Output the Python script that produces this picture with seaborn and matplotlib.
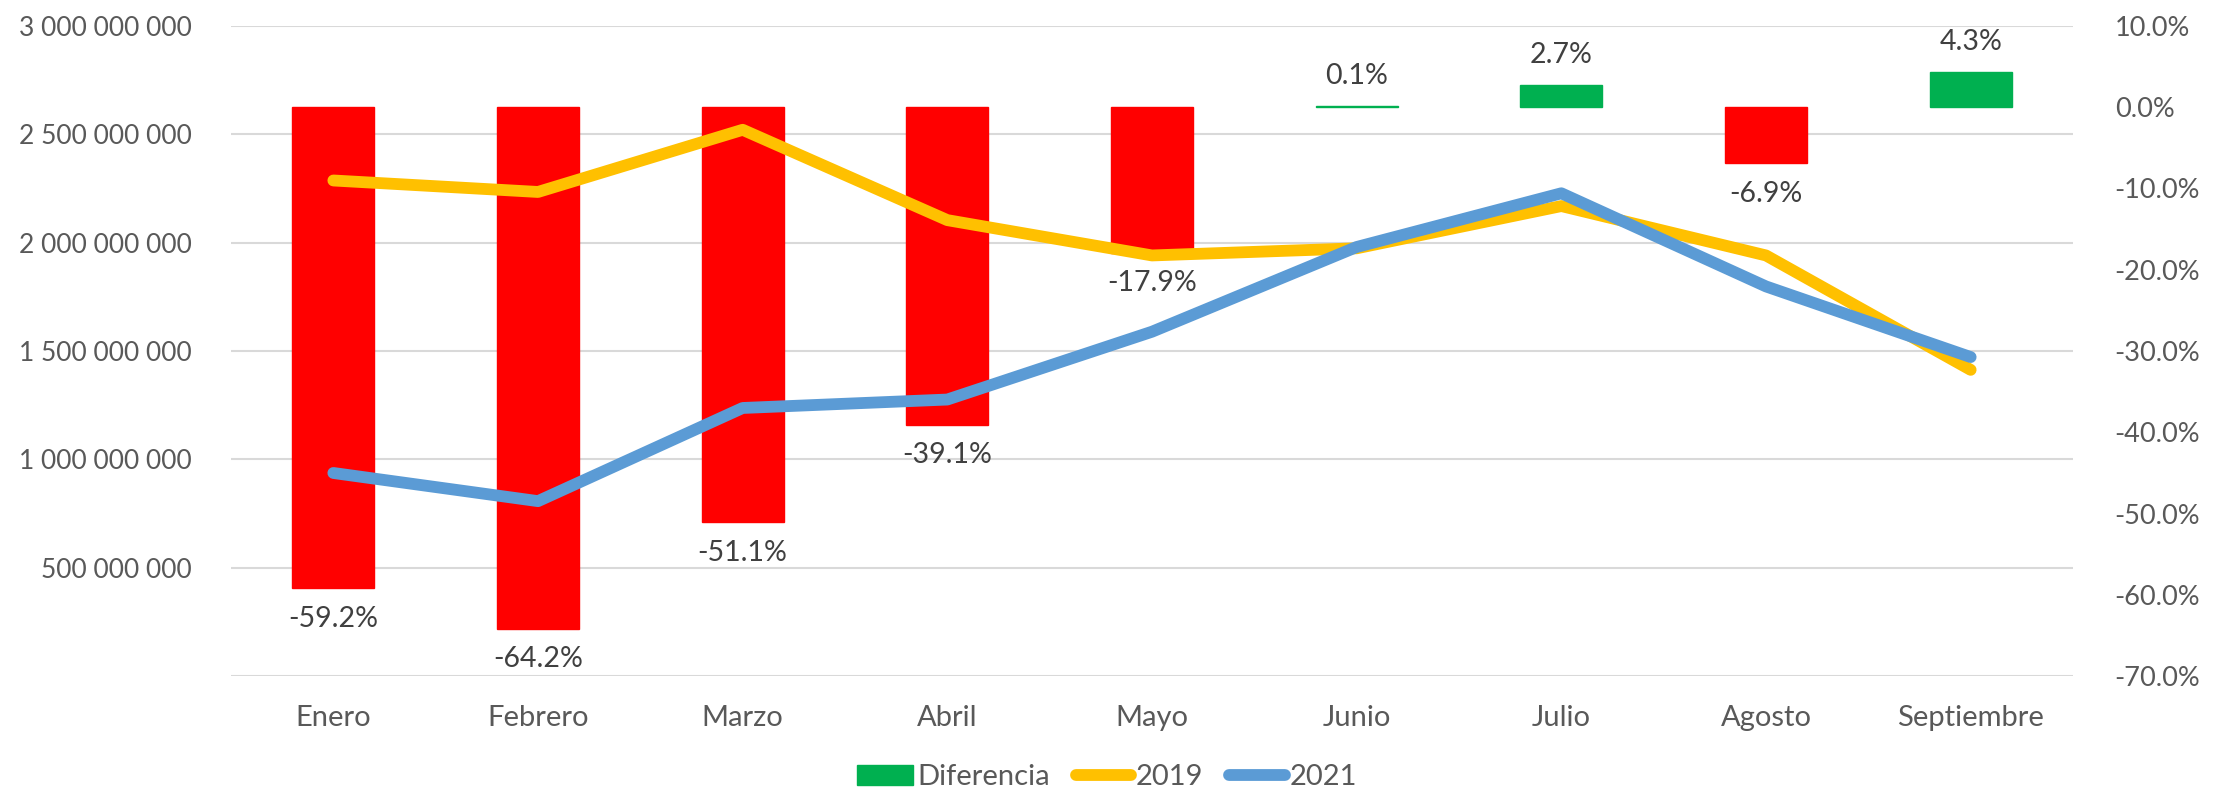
import numpy as np
import pandas as pd
import matplotlib.pyplot as plt
import seaborn as sns
from matplotlib.patches import Patch
from matplotlib.lines import Line2D
from matplotlib.ticker import FuncFormatter

# data
months = ["Enero", "Febrero", "Marzo", "Abril", "Mayo", "Junio", "Julio", "Agosto", "Septiembre"]
v2019 = [2.287e9, 2.234e9, 2.521e9, 2.104e9, 1.941e9, 1.974e9, 2.169e9, 1.941e9, 1.413e9]
v2021 = [0.937e9, 0.807e9, 1.237e9, 1.276e9, 1.589e9, 1.980e9, 2.228e9, 1.798e9, 1.472e9]
diferencia = [-59.2, -64.2, -51.1, -39.1, -17.9, 0.1, 2.7, -6.9, 4.3]

df = pd.DataFrame({"pos": np.arange(len(months)), "mes": months,
                   "v2019": v2019, "v2021": v2021, "dif": diferencia})
df["signo"] = np.where(df["dif"] < 0, "neg", "pos")

RED, GREEN, YELLOW, BLUE = "#FF0000", "#00B050", "#FFC000", "#5B9BD5"
TXT = "#595959"

sns.set_theme(style="white")
plt.rcParams["font.family"] = ["Lato", "DejaVu Sans"]

fig = plt.figure(figsize=(22.14, 7.92), dpi=100)
ax = fig.add_axes([231 / 2214, 1 - 676 / 792, (2073 - 231) / 2214, 650 / 792])

# left axis: gridlines + tick labels
ax.set_ylim(0, 3e9)
ax.set_yticks(np.arange(0, 3.01e9, 5e8))
ax.yaxis.set_major_formatter(FuncFormatter(
    lambda v, p: "" if v == 0 else f"{v:,.0f}".replace(",", " ")))
ax.grid(axis="y", color="#D9D9D9", lw=1.5)
ax.tick_params(axis="y", length=0, pad=28, labelsize=19, labelcolor=TXT)

# bars on percent axis (right)
axb = ax.twinx()
sns.barplot(data=df, x="pos", y="dif", hue="signo", palette={"neg": RED, "pos": GREEN},
            dodge=False, width=0.4, legend=False, ax=axb, saturation=1, linewidth=1)
for p in axb.patches:
    p.set_edgecolor(p.get_facecolor())
axb.set_ylim(-70, 10)
axb.set_yticks(np.arange(-70, 10.1, 10))
axb.yaxis.set_major_formatter(FuncFormatter(lambda v, p: f"{v:.1f}%"))
axb.tick_params(axis="y", length=0, pad=30, labelsize=19.5, labelcolor=TXT)
axb.set_ylabel("")
for i, d in enumerate(diferencia):
    off = -22 if d < 0 else 22
    axb.annotate(f"{d:.1f}%", xy=(i, d), xytext=(0, off), textcoords="offset points",
                 ha="center", va="center", fontsize=20.5, color="#404040")

# lines on left scale
axl = ax.twinx()
sns.lineplot(data=df, x="pos", y="v2019", color=YELLOW, lw=8.5, ax=axl,
             solid_capstyle="round", solid_joinstyle="round")
sns.lineplot(data=df, x="pos", y="v2021", color=BLUE, lw=8.5, ax=axl,
             solid_capstyle="round", solid_joinstyle="round")
axl.set_ylim(0, 3e9)
axl.set_yticks([])
axl.set_ylabel("")

ax.set_xlim(-0.5, len(months) - 0.5)
ax.set_xticks(df["pos"])
ax.set_xticklabels(months)
ax.tick_params(axis="x", length=0, pad=21, labelsize=21, labelcolor=TXT)
ax.set_xlabel("")

for a in (ax, axb, axl):
    for s in a.spines.values():
        s.set_visible(False)

handles = [Patch(color=GREEN),
           Line2D([], [], color=YELLOW, lw=8.5, solid_capstyle="round"),
           Line2D([], [], color=BLUE, lw=8.5, solid_capstyle="round")]
leg = fig.legend(handles, ["Diferencia", "2019", "2021"], loc="center",
                 bbox_to_anchor=(0.5, 1 - 777 / 792), ncol=3, frameon=False,
                 fontsize=21, handlelength=1.9, handletextpad=0.15, columnspacing=0.9)
for t in leg.get_texts():
    t.set_color(TXT)

fig.savefig("out.png", dpi=100)
